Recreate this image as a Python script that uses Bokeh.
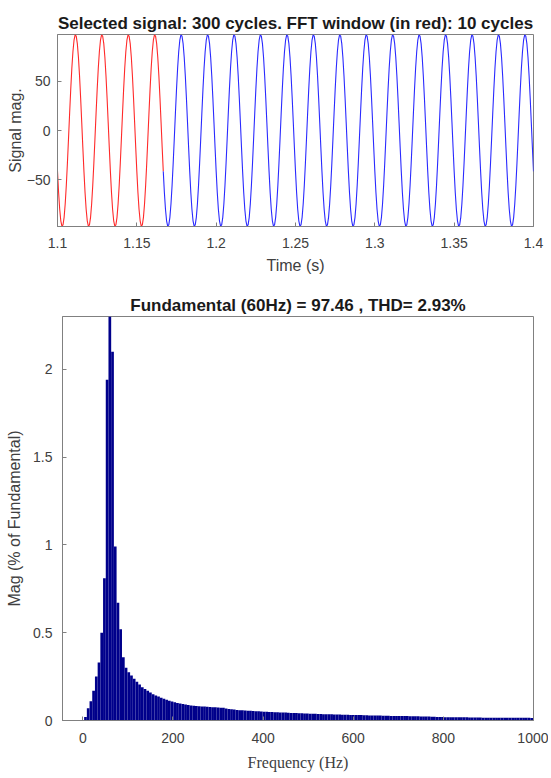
import numpy as np
from bokeh.plotting import figure
from bokeh.models import Range1d, FixedTicker, ColumnDataSource
from bokeh.embed import file_html
from bokeh.resources import INLINE

# ---------------- data ----------------
# top panel: one cycle of the 60 Hz signal, sampled 24 times per cycle starting at t = 1.1 s
signal_freq_hz = 60
samples_per_cycle = 24
cycle_samples = [-41.5, -62.9, -80.0, -91.7, -97.1, -95.9, -88.2, -74.4,
                 -55.6, -33.0, -8.2, 17.3, 41.5, 62.9, 80.0, 91.7,
                 97.1, 95.9, 88.2, 74.4, 55.6, 33.0, 8.2, -17.3]
n_cycles_shown = 18
red_cycles_shown = 4           # part of the 10-cycle FFT window visible after 1.1 s
t_start = 1.1

time_ticks = [1.1, 1.15, 1.2, 1.25, 1.3, 1.35, 1.4]
time_tick_labels = ["1.1", "1.15", "1.2", "1.25", "1.3", "1.35", "1.4"]
sig_ticks = [-50, 0, 50]

# bottom panel: spectrum, 6 Hz bins, % of fundamental
bin_step_hz = 6
spectrum = [
    0.00, 0.02, 0.07, 0.11, 0.17, 0.25, 0.33, 0.50, 0.81, 1.94,
    100.0, 2.10, 0.99, 0.67, 0.52, 0.36, 0.30, 0.275, 0.256, 0.237,
    0.22, 0.205, 0.19, 0.18, 0.17, 0.16, 0.15, 0.143, 0.136, 0.13,
    0.124, 0.118, 0.113, 0.108, 0.104, 0.100, 0.097, 0.094, 0.091, 0.088,
    0.086, 0.084, 0.082, 0.081, 0.080, 0.079, 0.078, 0.077, 0.076, 0.075,
    0.074, 0.073, 0.072, 0.068, 0.066, 0.064, 0.062, 0.060, 0.059, 0.058,
    0.057, 0.056, 0.055, 0.054, 0.053, 0.052, 0.051, 0.050, 0.050, 0.049,
    0.048, 0.047, 0.047, 0.046, 0.045, 0.045, 0.044, 0.043, 0.043, 0.042,
    0.041, 0.041, 0.040, 0.040, 0.039, 0.038, 0.038, 0.037, 0.037, 0.036,
    0.036, 0.035, 0.035, 0.034, 0.034, 0.034, 0.033, 0.033, 0.033, 0.032,
    0.032, 0.032, 0.031, 0.031, 0.030, 0.030, 0.029, 0.029, 0.028, 0.028,
    0.028, 0.027, 0.027, 0.027, 0.026, 0.026, 0.026, 0.025, 0.025, 0.025,
    0.025, 0.024, 0.024, 0.024, 0.024, 0.023, 0.023, 0.023, 0.023, 0.022,
    0.021, 0.020, 0.020, 0.020, 0.019, 0.019, 0.019, 0.019, 0.018, 0.018,
    0.018, 0.018, 0.018, 0.017, 0.017, 0.017, 0.017, 0.017, 0.016, 0.016,
    0.016, 0.016, 0.016, 0.016, 0.016, 0.015, 0.015, 0.015, 0.015, 0.015,
    0.015, 0.015, 0.015, 0.015, 0.015, 0.015, 0.014,
]
freq_ticks = [0, 200, 400, 600, 800, 1000]
mag_ticks = [0, 0.5, 1, 1.5, 2]
mag_tick_labels = ["0", "0.5", "1", "1.5", "2"]

# ---------------- build series ----------------
dt = 1.0 / signal_freq_hz / samples_per_cycle
sig = np.concatenate([np.tile(cycle_samples, n_cycles_shown), [cycle_samples[0]]])
t = t_start + np.arange(len(sig)) * dt
split = red_cycles_shown * samples_per_cycle
red_src = ColumnDataSource(dict(t=t[:split + 1], v=sig[:split + 1]))
blue_src = ColumnDataSource(dict(t=t[split:], v=sig[split:]))

freqs = np.arange(len(spectrum)) * bin_step_hz
bar_src = ColumnDataSource(dict(f=freqs, m=spectrum))

FONT = "Liberation Sans"
GREY = "#808080"
LABEL = "#404040"


def style(p):
    p.xgrid.visible = False
    p.ygrid.visible = False
    p.outline_line_color = GREY
    p.outline_line_width = 1
    p.background_fill_color = "white"
    p.border_fill_color = "white"
    p.title.align = "center"
    p.title.text_font = FONT
    p.title.text_font_size = "17px"
    p.title.text_font_style = "bold"
    p.title.text_color = "#1a1a1a"
    p.title.standoff = 4
    for ax in p.axis:
        ax.axis_line_color = GREY
        ax.major_tick_line_color = GREY
        ax.major_tick_in = 4
        ax.major_tick_out = 0
        ax.minor_tick_line_color = None
        ax.major_label_text_font = FONT
        ax.major_label_text_font_size = "14px"
        ax.major_label_text_color = LABEL
        ax.axis_label_text_font = FONT
        ax.axis_label_text_font_size = "16px"
        ax.axis_label_text_font_style = "normal"
        ax.axis_label_text_color = LABEL
    p.yaxis.major_label_standoff = 10
    p.yaxis.axis_label_standoff = 2


# ---------------- top figure ----------------
p1 = figure(width=548, height=280, output_backend="svg", toolbar_location=None,
            x_range=Range1d(1.1, 1.4), y_range=Range1d(-97.5, 97.5),
            min_border_left=57, min_border_right=15, min_border_top=34, min_border_bottom=54,
            title="Selected signal: 300 cycles. FFT window (in red): 10 cycles")
p1.line("t", "v", source=red_src, line_color="#ff2a2a", line_width=1.1)
p1.line("t", "v", source=blue_src, line_color="#2a2aff", line_width=1.1)
p1.xaxis.ticker = FixedTicker(ticks=time_ticks)
p1.xaxis.major_label_overrides = dict(zip(time_ticks, time_tick_labels))
p1.yaxis.ticker = FixedTicker(ticks=sig_ticks)
p1.xaxis.axis_label = "Time (s)"
p1.yaxis.axis_label = "Signal mag."
style(p1)
p1.xaxis.major_label_standoff = 11
p1.xaxis.axis_label_standoff = 6
p1.yaxis.major_label_standoff = 7
p1.yaxis.axis_label_standoff = 0

# ---------------- bottom figure ----------------
p2 = figure(width=548, height=496, output_backend="svg", toolbar_location=None,
            x_range=Range1d(-45, 1000), y_range=Range1d(0, 2.3),
            min_border_left=62, min_border_right=15, min_border_top=36, min_border_bottom=56,
            title="Fundamental (60Hz) = 97.46 , THD= 2.93%")
p2.vbar(x="f", top="m", width=bin_step_hz, source=bar_src,
        fill_color="#00008b", line_color=None)
p2.xaxis.ticker = FixedTicker(ticks=freq_ticks)
p2.yaxis.ticker = FixedTicker(ticks=mag_ticks)
p2.yaxis.major_label_overrides = dict(zip(mag_ticks, mag_tick_labels))
p2.xaxis.axis_label = "Frequency (Hz)"
p2.yaxis.axis_label = "Mag (% of Fundamental)"
style(p2)
p2.xaxis.axis_label_text_font = "Liberation Serif"
p2.xaxis.major_label_standoff = 12
p2.xaxis.axis_label_standoff = 8
p2.yaxis.axis_label_standoff = 7

open("out.html", "w").write(file_html([p1, p2], INLINE))
